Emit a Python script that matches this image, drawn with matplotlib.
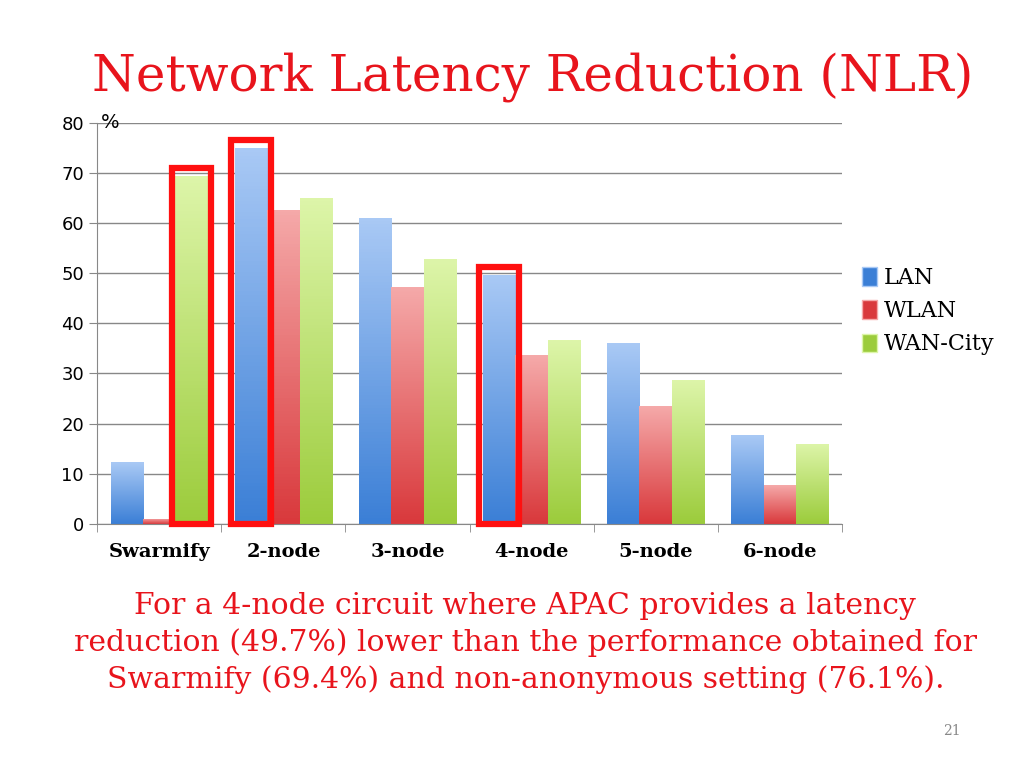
import matplotlib
matplotlib.use("Agg")
import matplotlib.pyplot as plt
import numpy as np
from matplotlib.patches import Rectangle, Patch
from matplotlib.colors import LinearSegmentedColormap

categories = ["Swarmify", "2-node", "3-node", "4-node", "5-node", "6-node"]
series = ["LAN", "WLAN", "WAN-City"]
lan = [12.3, 75.0, 61.0, 49.7, 36.0, 17.7]
wlan = [1.0, 62.7, 47.2, 33.6, 23.5, 7.7]
wan = [69.4, 65.0, 52.8, 36.7, 28.7, 16.0]
highlight = [(0, 2), (1, 0), (3, 0)]  # (category, series)

grad = {"LAN": ("#3b7fd6", "#a9c9f5"), "WLAN": ("#d9393c", "#f5a9a9"), "WAN-City": ("#9ccc3c", "#ddf5a9")}

fig = plt.figure(figsize=(10.24, 7.68), dpi=100)
ax = fig.add_axes([0.095, 0.318, 0.727, 0.522])
x = np.arange(len(categories))
w = 0.26
vals = [lan, wlan, wan]
handles = []
for si, (name, v) in enumerate(zip(series, vals)):
    c0, c1 = grad[name]
    cmap = LinearSegmentedColormap.from_list(name, [c0, c1])
    bars = ax.bar(x + (si - 1) * w, v, w, color=c0, zorder=2)
    for b in bars:
        bx, bw, bh = b.get_x(), b.get_width(), b.get_height()
        im = ax.imshow(np.linspace(0, 1, 100).reshape(-1, 1), cmap=cmap, origin="lower",
                       extent=[bx, bx + bw, 0, max(bh, 0.01)], aspect="auto", zorder=2)
        im.set_clip_path(b)
        b.set_facecolor("none")
    handles.append(Patch(facecolor=c0, edgecolor=c1, label=name))
for ci, si in highlight:
    v = vals[si][ci]
    ax.add_patch(Rectangle((x[ci] + (si - 1) * w - w / 2 - 0.03, 0), w + 0.06, v + 1.5,
                           fill=False, edgecolor="#ff1010", lw=4.5, zorder=4, clip_on=False))
ax.set_xlim(-0.5, 5.5)
ax.set_ylim(0, 80)
ax.set_yticks(range(0, 81, 10))
ax.set_yticklabels(["0", "10", "20", "30", "40", "50", "60", "70", "80"], fontsize=13)
ax.set_xticks(x)
ax.set_xticklabels(categories, fontsize=14, fontweight="bold", family="DejaVu Serif")
ax.set_xticks(np.arange(-0.5, 6, 1), minor=True)
ax.tick_params(axis="x", which="major", length=0, pad=14)
ax.tick_params(axis="x", which="minor", length=6, color="#888888")
ax.tick_params(axis="y", length=6, color="#888888")
ax.grid(axis="y", color="#888888", lw=1, zorder=0)
for s in ["top", "right"]:
    ax.spines[s].set_visible(False)
ax.spines["left"].set_color("#888888")
ax.spines["bottom"].set_color("#888888")
ax.text(-0.47, 80, "%", fontsize=14, va="center", ha="left")
ax.legend(handles=handles, loc="center left", bbox_to_anchor=(1.0, 0.53), frameon=False,
          prop={"family": "DejaVu Serif", "size": 16}, handlelength=0.7, handleheight=0.9,
          handletextpad=0.3, labelspacing=0.5)
fig.text(0.09, 0.9, "Network Latency Reduction (NLR)", fontsize=36, color="#e8141c",
         family="DejaVu Serif", va="center")
fig.text(0.513, 0.163, "For a 4-node circuit where APAC provides a latency\n"
         "reduction (49.7%) lower than the performance obtained for\n"
         "Swarmify (69.4%) and non-anonymous setting (76.1%).",
         fontsize=21.5, color="#e8141c", family="DejaVu Serif", ha="center", va="center",
         linespacing=1.35)
fig.text(0.93, 0.043, "21", fontsize=10, color="#888888", family="DejaVu Serif", ha="center")
fig.savefig("out.png")
